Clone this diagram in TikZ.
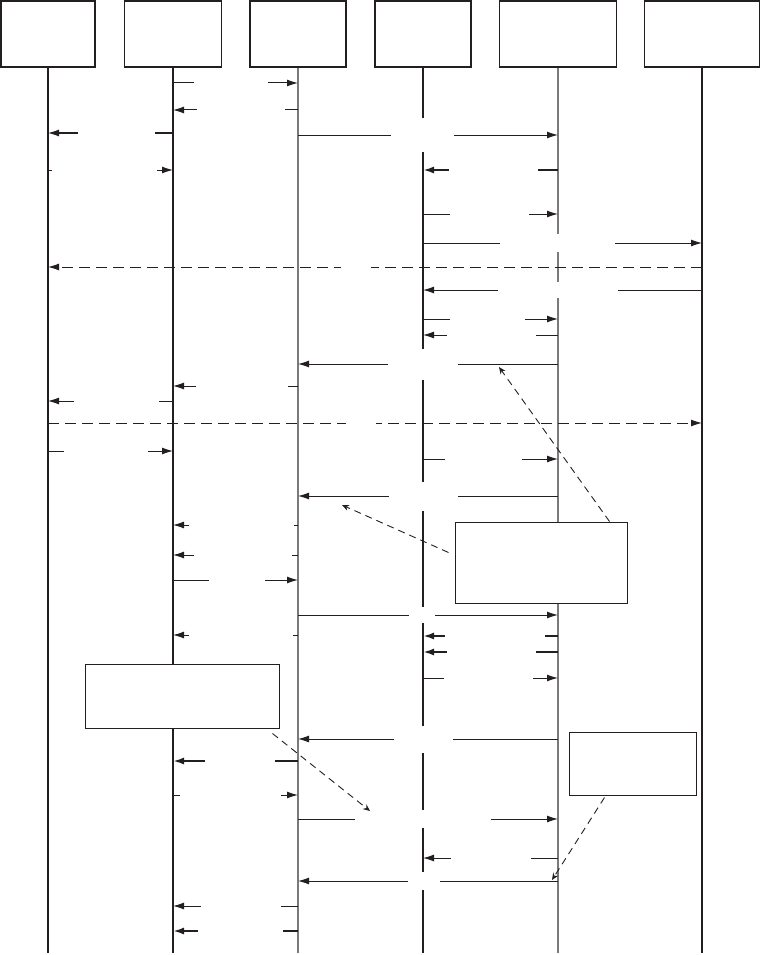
\documentclass[tikz,border=0pt]{standalone}
\usepackage{tikz}
\usetikzlibrary{arrows.meta,calc}
\definecolor{Ink}{HTML}{231F20}
\tikzset{
  every picture/.style={line width=1pt},
  headbox/.style={draw=Ink, line width=1.2pt, fill=white, minimum height=66pt, inner sep=0pt},
  notebox/.style={draw=Ink, line width=1pt, fill=white, inner sep=0pt},
  lifeline/.style={draw=Ink, line width=1.3pt},
  lifegray/.style={draw=Ink!60, line width=1.5pt},
  msgarrow/.style={-{Latex[length=11pt,width=7pt]}, draw=Ink},
  msgthick/.style={msgarrow, line width=2pt},
  msgdash/.style={msgarrow, dash pattern=on 11pt off 6pt},
  gapbox/.style={fill=white, inner sep=0pt, minimum height=12pt},
  pointer/.style={-{Stealth[length=7pt,width=6pt]}, draw=Ink, line width=0.9pt, dash pattern=on 7pt off 5pt}
}

\begin{document}
\begin{tikzpicture}[x=1pt, y=-1pt]
  \useasboundingbox (0,0) rectangle (761,955);

  % participants
  \node[headbox, minimum width=94pt]  (h1) at (48,34) {};
  \node[headbox, minimum width=97pt]  (h2) at (173,34) {};
  \node[headbox, minimum width=96pt]  (h3) at (298,34) {};
  \node[headbox, minimum width=96pt]  (h4) at (423,34) {};
  \node[headbox, minimum width=117pt] (h5) at (558,34) {};
  \node[headbox, minimum width=115pt] (h6) at (702,34) {};

  \draw[lifeline] (h1.south) -- (h1 |- 0,953);
  \draw[lifeline] (h2.south) -- (h2 |- 0,953);
  \draw[lifegray] (h3.south) -- (h3 |- 0,953);
  \draw[lifeline] (h4.south) -- (h4 |- 0,953);
  \draw[lifegray] (h5.south) -- (h5 |- 0,953);
  \draw[lifeline] (h6.south) -- (h6 |- 0,953);

  % messages
  \draw[msgarrow] (h2 |- 0,83) -- node[gapbox, pos=.464, minimum width=74pt] (g1) {} (h3 |- 0,83);
  \draw[msgarrow] (h3 |- 0,110) -- node[gapbox, pos=.456, minimum width=88pt] (g2) {} (h2 |- 0,110);
  \draw[msgarrow] (h2 |- 0,133) -- node[gapbox, pos=.452, minimum width=77pt] (g3) {} (h1 |- 0,133);
  \draw[msgarrow] (h3 |- 0,135) -- node[gapbox, pos=.479, minimum width=63pt, minimum height=34pt] (g4) {} (h5 |- 0,135);
  \draw[msgarrow] (h1 |- 0,170) -- node[gapbox, pos=.452, minimum width=105pt] (g5) {} (h2 |- 0,170);
  \draw[msgthick] (h5 |- 0,170) -- node[gapbox, pos=.478, minimum width=89pt] (g6) {} (h4 |- 0,170);
  \draw[msgarrow] (h4 |- 0,214) -- node[gapbox, pos=.493, minimum width=79pt] (g7) {} (h5 |- 0,214);
  \draw[msgarrow] (h4 |- 0,243) -- node[gapbox, pos=.482, minimum width=115pt, minimum height=18pt] (g8) {} (h6 |- 0,243);
  \draw[msgdash] (h6 |- 0,267) -- node[gapbox, pos=.529, minimum width=30pt] (g9) {} (h1 |- 0,267);
  \draw[msgarrow] (h6 |- 0,290) -- node[gapbox, pos=.516, minimum width=120pt, minimum height=16pt] (g10) {} (h4 |- 0,290);
  \draw[msgarrow] (h4 |- 0,319) -- node[gapbox, pos=.478, minimum width=75pt] (g11) {} (h5 |- 0,319);
  \draw[msgarrow] (h5 |- 0,335) -- node[gapbox, pos=.493, minimum width=89pt] (g12) {} (h4 |- 0,335);
  \draw[msgarrow] (h5 |- 0,364) -- node[gapbox, pos=.519, minimum width=70pt, minimum height=31pt] (g13) {} (h3 |- 0,364);
  \draw[msgarrow] (h3 |- 0,386) -- node[gapbox, pos=.448, minimum width=92pt] (g14) {} (h2 |- 0,386);
  \draw[msgarrow] (h2 |- 0,401) -- node[gapbox, pos=.452, minimum width=85pt] (g15) {} (h1 |- 0,401);
  \draw[msgdash] (h1 |- 0,423) -- node[gapbox, pos=.479, minimum width=30pt] (g16) {} (h6 |- 0,423);
  \draw[msgarrow] (h1 |- 0,451) -- node[gapbox, pos=.464, minimum width=84pt] (g17) {} (h2 |- 0,451);
  \draw[msgarrow] (h4 |- 0,459) -- node[gapbox, pos=.448, minimum width=77pt] (g18) {} (h5 |- 0,459);
  \draw[msgarrow] (h5 |- 0,496) -- node[gapbox, pos=.517, minimum width=69pt, minimum height=29pt] (g19) {} (h3 |- 0,496);
  \draw[msgarrow] (h3 |- 0,525) -- node[gapbox, pos=.452, minimum width=105pt] (g20) {} (h2 |- 0,525);
  \draw[msgarrow] (h3 |- 0,555) -- node[gapbox, pos=.44, minimum width=98pt] (g21) {} (h2 |- 0,555);
  \draw[msgarrow] (h2 |- 0,580) -- node[gapbox, pos=.512, minimum width=56pt] (g22) {} (h3 |- 0,580);
  \draw[msgarrow] (h3 |- 0,615) -- node[gapbox, pos=.477, minimum width=26pt, minimum height=16pt] (g23) {} (h5 |- 0,615);
  \draw[msgarrow] (h3 |- 0,635) -- node[gapbox, pos=.456, minimum width=104pt] (g24) {} (h2 |- 0,635);
  \draw[msgthick] (h5 |- 0,636) -- node[gapbox, pos=.467, minimum width=100pt, minimum height=8pt] (g25) {} (h4 |- 0,636);
  \draw[msgthick] (h5 |- 0,652) -- node[gapbox, pos=.493, minimum width=89pt] (g26) {} (h4 |- 0,652);
  \draw[msgarrow] (h4 |- 0,678) -- node[gapbox, pos=.485, minimum width=89pt] (g27) {} (h5 |- 0,678);
  \draw[msgarrow] (h5 |- 0,739) -- node[gapbox, pos=.517, minimum width=59pt, minimum height=27pt] (g28) {} (h3 |- 0,739);
  \draw[msgthick] (h3 |- 0,761) -- node[gapbox, pos=.464, minimum width=70pt] (g29) {} (h2 |- 0,761);
  \draw[msgarrow] (h2 |- 0,795) -- node[gapbox, pos=.46, minimum width=101pt] (g30) {} (h3 |- 0,795);
  \draw[msgarrow] (h3 |- 0,819) -- node[gapbox, pos=.481, minimum width=136pt, minimum height=18pt] (g31) {} (h5 |- 0,819);
  \draw[msgarrow] (h5 |- 0,858) -- node[gapbox, pos=.496, minimum width=80pt] (g32) {} (h4 |- 0,858);
  \draw[msgarrow] (h5 |- 0,881) -- node[gapbox, pos=.515, minimum width=32pt, minimum height=18pt] (g33) {} (h3 |- 0,881);
  \draw[msgarrow] (h3 |- 0,906) -- node[gapbox, pos=.456, minimum width=80pt] (g34) {} (h2 |- 0,906);
  \draw[msgthick] (h3 |- 0,931) -- node[gapbox, pos=.464, minimum width=85pt] (g35) {} (h2 |- 0,931);

  % notes
  \node[notebox, minimum width=172pt, minimum height=81pt] (n1) at (541,562.5) {};
  \node[notebox, minimum width=194pt, minimum height=64pt] (n2) at (182,696) {};
  \node[notebox, minimum width=127pt, minimum height=63pt] (n3) at (632.5,763.5) {};

  \coordinate (t1) at (499,367);
  \coordinate (t2) at (342,505);
  \coordinate (t3) at (370,811);
  \coordinate (t4) at (552,880);

  \draw[pointer] ([xshift=-18pt]n1.north east) -- (t1);
  \draw[pointer] ([shift={(-6,-10)}]n1.west) -- (t2);
  \draw[pointer] ([shift={(-7,5)}]n2.south east) -- (t3);
  \draw[pointer] ([shift={(-28,2)}]n3.south) -- (t4);
\end{tikzpicture}
\end{document}
